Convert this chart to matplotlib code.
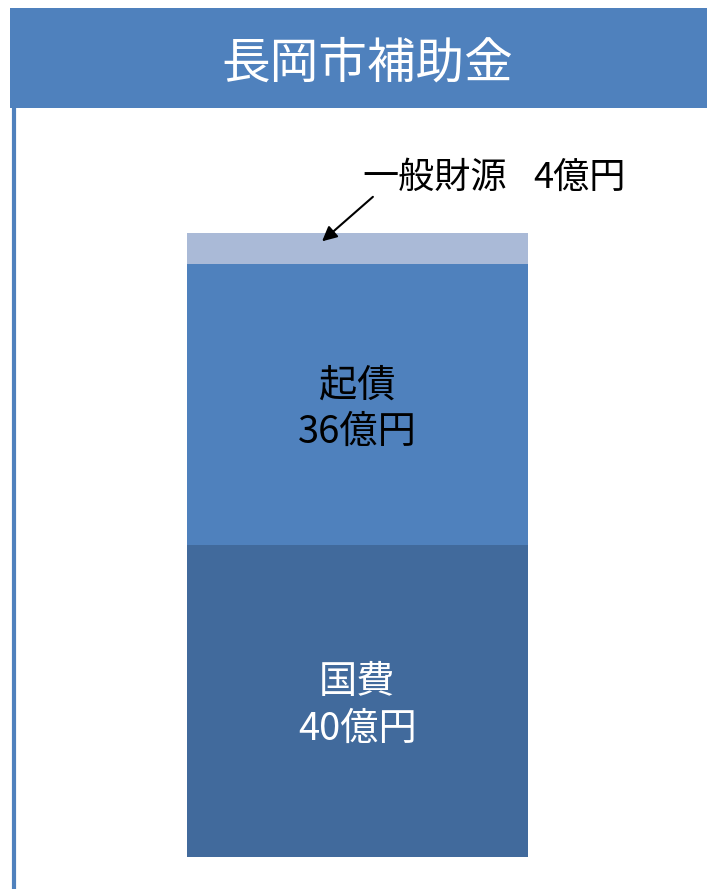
import matplotlib ; matplotlib.use('Agg')
from matplotlib import pyplot as plt
from matplotlib.patches import Rectangle
from matplotlib.lines import Line2D

plt.rcParams['font.family'] = ['Noto Sans CJK JP', 'DejaVu Sans']

# data
title = '長岡市補助金'
segments = ['国費', '起債', '一般財源']
values = [40, 36, 4]
value_labels = ['40億円', '36億円', '4億円']
colors = ['#416A9C', '#4F81BD', '#AABAD7']
text_colors = ['white', 'black']

W, H = 707, 889
fig = plt.figure(figsize=(W / 100, H / 100), dpi=100)

# title banner and left border
fig.patches.append(Rectangle((10 / W, 1 - 108 / H), 1, 100 / H, transform=fig.transFigure,
                             facecolor='#4F81BD', edgecolor='none'))
fig.lines.append(Line2D([13.5 / W, 13.5 / W], [0, 1 - 108 / H], transform=fig.transFigure,
                        color='#4F81BD', lw=3))
fig.text(367 / W, 1 - 64 / H, title, color='white', fontsize=35, ha='center', va='center')

# stacked bar
ax = fig.add_axes([187 / W, 1 - 857 / H, 341 / W, 624 / H])
bottom = 0
for i in range(len(values)):
    ax.bar(0.5, values[i], width=1, bottom=bottom, color=colors[i], linewidth=0)
    if i < 2:
        ax.text(0.50, bottom + values[i] / 2 - 0.6, segments[i] + '\n' + value_labels[i],
                ha='center', va='center', fontsize=27.5, color=text_colors[i], linespacing=1.25)
    bottom += values[i]
ax.set_xlim(0, 1)
ax.set_ylim(0, sum(values))
ax.axis('off')

# callout for the small top segment
ax.annotate('', xy=(0.39, sum(values) - 1.3), xycoords='data',
            xytext=(375 / W, 1 - 195 / H), textcoords='figure fraction',
            arrowprops=dict(arrowstyle='-|>', color='black', lw=1.5, mutation_scale=22),
            annotation_clip=False)
fig.text(362 / W, 1 - 178 / H, segments[2], fontsize=26, ha='left', va='center', color='black')
fig.text(533 / W, 1 - 178 / H, value_labels[2], fontsize=26, ha='left', va='center', color='black')

plt.savefig('out.png', dpi=100)
